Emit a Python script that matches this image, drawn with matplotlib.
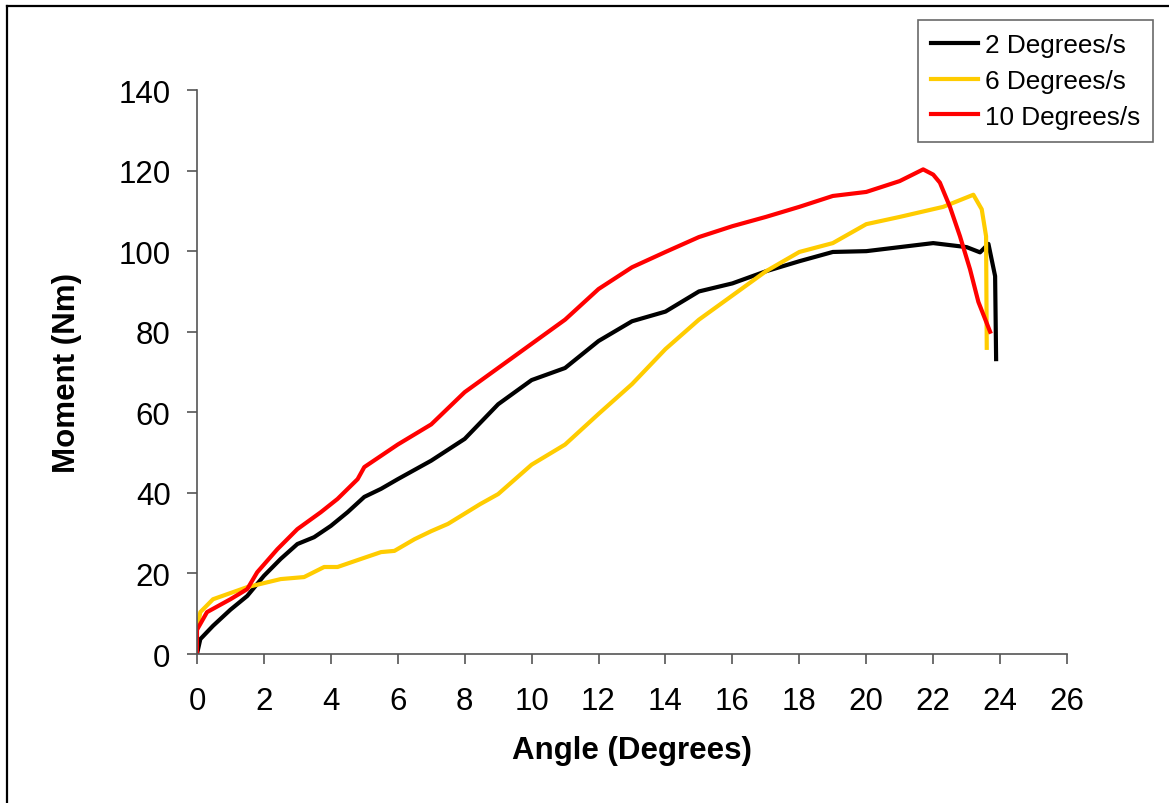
import matplotlib.pyplot as plt
from matplotlib.lines import Line2D

plt.rcParams['font.family'] = ['Liberation Sans', 'DejaVu Sans']

# angle (degrees) / moment (Nm)
x_2 = [0, 0.1, 0.48, 1.0, 1.5, 2.0, 2.5, 3.0, 3.5, 4.0, 4.5, 5.0, 5.5, 6.0, 7.0, 8.0,
       9.0, 10.0, 11.0, 12.0, 13.0, 14.0, 15.0, 16.0, 17.0, 18.0, 19.0, 20.0, 21.0,
       22.0, 23.0, 23.4, 23.65, 23.85, 23.88]
m_2 = [0, 3.7, 7.0, 11.0, 14.4, 19.4, 23.6, 27.3, 29.0, 31.8, 35.2, 39.0, 41.0, 43.4,
       48.0, 53.4, 62.0, 68.0, 71.0, 77.7, 82.6, 85.0, 90.0, 92.0, 95.0, 97.5, 99.8,
       100.0, 101.0, 102.0, 101.0, 99.7, 101.8, 93.8, 73.2]

x_6 = [0, 0.1, 0.48, 1.5, 2.5, 3.2, 3.8, 4.2, 4.9, 5.5, 5.9, 6.5, 7.0, 7.5, 8.46, 9.0,
       10.0, 11.0, 12.0, 13.0, 14.0, 15.0, 16.0, 17.0, 18.0, 19.0, 20.0, 21.0, 22.3,
       23.2, 23.45, 23.58, 23.6]
m_6 = [6.0, 10.4, 13.6, 16.6, 18.6, 19.1, 21.6, 21.6, 23.6, 25.3, 25.6, 28.5, 30.5,
       32.3, 37.2, 39.7, 47.0, 52.0, 59.6, 67.0, 75.7, 83.0, 89.0, 95.0, 99.8, 102.0,
       106.7, 108.5, 111.0, 114.0, 110.4, 103.7, 76.0]

x_10 = [0, 0, 0.3, 1.0, 1.5, 1.8, 2.4, 3.0, 3.7, 4.2, 4.8, 5.0, 6.0, 7.0, 8.0, 9.0,
        10.0, 11.0, 12.0, 13.0, 14.0, 15.0, 16.0, 17.0, 18.0, 19.0, 20.0, 21.0, 21.7,
        22.0, 22.2, 22.5, 22.8, 23.1, 23.35, 23.7]
m_10 = [0, 6.0, 10.4, 13.6, 16.1, 20.3, 26.0, 31.0, 35.2, 38.5, 43.4, 46.4, 52.0, 57.0,
        65.0, 71.0, 77.0, 83.0, 90.6, 96.0, 99.8, 103.5, 106.2, 108.5, 111.0, 113.7,
        114.7, 117.4, 120.3, 119.0, 117.0, 111.0, 103.7, 95.5, 87.4, 80.0]

fig = plt.figure(figsize=(11.69, 8.04), dpi=100)
ax = fig.add_axes([0.1685, 0.1853, 0.7443, 0.7015])

ax.plot(x_2, m_2, color='black', lw=3, label='2 Degrees/s')
ax.plot(x_6, m_6, color='#FFCC00', lw=3, label='6 Degrees/s')
ax.plot(x_10, m_10, color='#FF0000', lw=3, label='10 Degrees/s')

ax.set_xlim(0, 26)
ax.set_ylim(0, 140)
ax.set_xticks(range(0, 27, 2))
ax.set_yticks(range(0, 141, 20))
for s in ['top', 'right']:
    ax.spines[s].set_visible(False)
for s in ['left', 'bottom']:
    ax.spines[s].set_color('#555555')
    ax.spines[s].set_linewidth(1.2)
ax.tick_params(direction='out', length=7, width=1.2, color='#555555', labelsize=22.5)
ax.tick_params(axis='x', pad=16)
ax.tick_params(axis='y', pad=12)
ax.set_xlabel('Angle (Degrees)', fontsize=22.5, fontweight='bold', labelpad=14)
ax.set_ylabel('Moment (Nm)', fontsize=22.5, fontweight='bold', labelpad=26)

leg = ax.legend(loc='upper left', bbox_to_anchor=(918 / 1169, 1 - 21 / 804),
                bbox_transform=fig.transFigure, fontsize=18.8, fancybox=False,
                frameon=True, borderaxespad=0, handlelength=1.8, handletextpad=0.25,
                labelspacing=0.45, borderpad=0.5)
leg.get_frame().set_edgecolor('#444444')
leg.get_frame().set_linewidth(1.2)

# outer frame of the chart (left and top edges visible)
fig.add_artist(Line2D([7 / 1169, 7 / 1169], [0, 1 - 7 / 804], color='black', lw=1.6,
                      transform=fig.transFigure))
fig.add_artist(Line2D([7 / 1169, 1], [1 - 7 / 804, 1 - 7 / 804], color='black', lw=1.6,
                      transform=fig.transFigure))

fig.savefig('out.png', dpi=100)
